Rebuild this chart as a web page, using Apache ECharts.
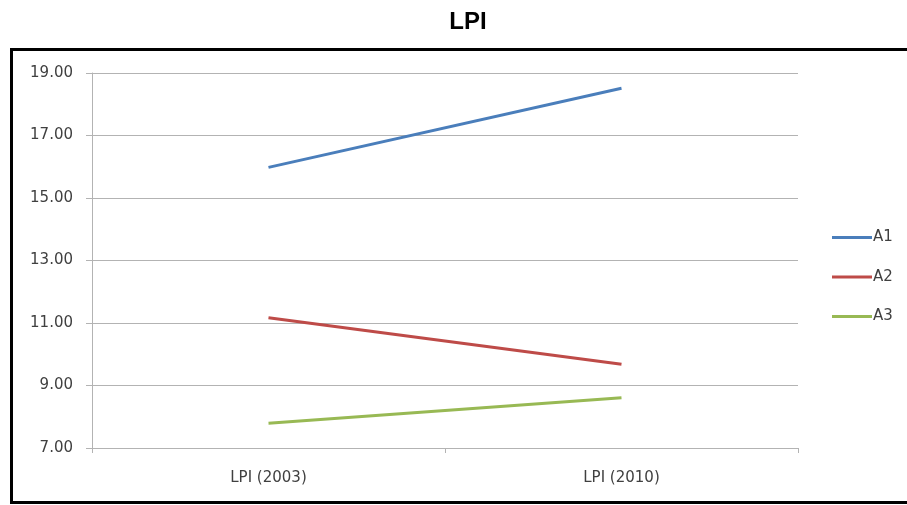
<!DOCTYPE html>
<html>
<head>
<meta charset="utf-8">
<script src="https://cdn.jsdelivr.net/npm/echarts@6/dist/echarts.min.js"></script>
<style>
html,body{margin:0;padding:0;background:#fff;}
#c{width:907px;height:505px;}
</style>
</head>
<body>
<div id="c"></div>
<script>
const categories = ['LPI (2003)', 'LPI (2010)'];
const seriesNames = ['A1', 'A2', 'A3'];
const a1 = [15.98, 18.51];
const a2 = [11.17, 9.68];
const a3 = [7.79, 8.61];
const seriesColors = ['#4A7EBB', '#BE4B48', '#98B954'];

const values = [a1, a2, a3];
const chart = echarts.init(document.getElementById('c'), null, {renderer: 'canvas'});
const labelFont = {fontFamily: 'DejaVu Sans', fontSize: 15, color: '#404040'};

chart.setOption({
  animation: false,
  backgroundColor: '#fff',
  title: {
    text: 'LPI',
    left: 463, top: 5, textAlign: 'center',
    textStyle: {fontFamily: 'Liberation Sans', fontWeight: 'bold', fontSize: 24, color: '#000'}
  },
  graphic: [{
    type: 'rect',
    shape: {x: 11.5, y: 49.5, width: 910, height: 453},
    style: {fill: 'none', stroke: '#000', lineWidth: 3},
    silent: true
  }],
  grid: {left: 92, right: 109, top: 73, bottom: 57, containLabel: false},
  legend: {
    orient: 'vertical',
    left: 832, top: 230,
    padding: 0,
    icon: 'rect',
    itemWidth: 40, itemHeight: 3, itemGap: 24.5,
    textStyle: Object.assign({}, labelFont, {lineHeight: 14, padding: [0, 0, 0, -4]}),
    data: seriesNames
  },
  xAxis: {
    type: 'category',
    data: categories,
    boundaryGap: true,
    axisLine: {lineStyle: {color: '#b3b3b3', width: 1}},
    axisTick: {show: true, length: 5, lineStyle: {color: '#b3b3b3'}},
    axisLabel: Object.assign({}, labelFont, {margin: 23}),
    splitLine: {show: false}
  },
  yAxis: {
    type: 'value',
    min: 7, max: 19, interval: 2,
    axisLine: {show: true, lineStyle: {color: '#b3b3b3', width: 1}},
    axisTick: {show: true, length: 6, lineStyle: {color: '#b3b3b3'}},
    axisLabel: Object.assign({}, labelFont, {margin: 19, formatter: v => v.toFixed(2)}),
    splitLine: {show: true, lineStyle: {color: '#b3b3b3', width: 1}}
  },
  series: seriesNames.map((n, i) => ({
    name: n,
    type: 'line',
    data: values[i],
    symbol: 'none',
    color: seriesColors[i],
    lineStyle: {color: seriesColors[i], width: 3},
    itemStyle: {color: seriesColors[i]}
  }))
});
</script>
</body>
</html>
